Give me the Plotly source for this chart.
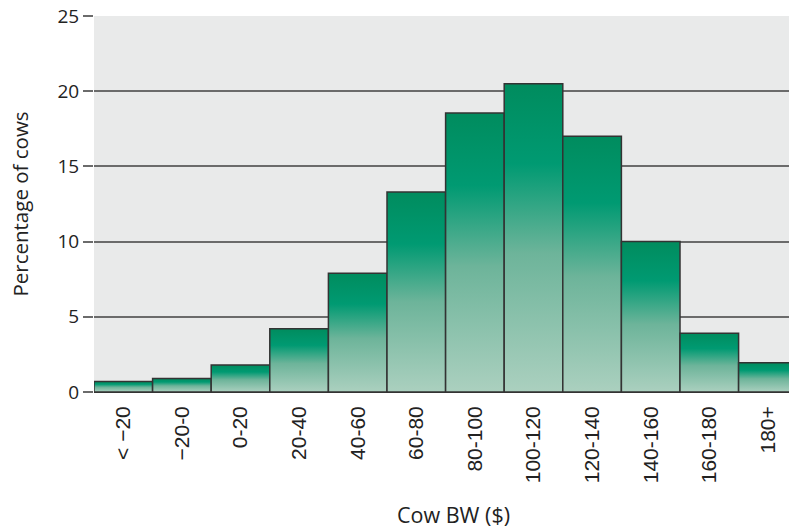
import plotly.graph_objects as go

categories = ["< \u221220", "\u221220-0", "0-20", "20-40", "40-60", "60-80",
              "80-100", "100-120", "120-140", "140-160", "160-180", "180+"]
percent_cows = [0.7, 0.9, 1.8, 4.2, 7.9, 13.3, 18.55, 20.5, 17.0, 10.0, 3.9, 1.95]
y_ticks = [0, 5, 10, 15, 20, 25]

FONT = "Open Sans"
gradient = [[0.0, "#abd0bf"], [0.45, "#6db49a"], [0.74, "#009a72"], [1.0, "#008c5e"]]

fig = go.Figure()
for i, v in enumerate(percent_cows):
    fig.add_trace(go.Scatter(
        x=[i - 0.5, i - 0.5, i + 0.5, i + 0.5, i - 0.5],
        y=[0, v, v, 0, 0],
        mode="lines",
        fill="toself",
        fillgradient=dict(type="vertical", colorscale=gradient),
        line=dict(color="#333333", width=1.5),
        hoverinfo="skip",
        showlegend=False,
    ))

fig.update_layout(
    width=789, height=529,
    margin=dict(l=94, r=0, t=16, b=137),
    paper_bgcolor="white",
    plot_bgcolor="#e9eaea",
    font=dict(family=FONT, size=17, color="#222222"),
    xaxis=dict(
        range=[-0.5, 11.36],
        tickmode="array",
        tickvals=list(range(len(categories))),
        ticktext=categories,
        tickangle=-90,
        tickfont=dict(family="Liberation Sans", size=21, color="#222222"),
        ticks="",
        ticklabelstandoff=9,
        showgrid=False,
        zeroline=False,
        showline=False,
        automargin=False,
    ),
    yaxis=dict(
        range=[0, 25],
        tickvals=y_ticks,
        tickfont=dict(size=19),
        ticks="outside",
        ticklen=10,
        tickwidth=1.5,
        tickcolor="#6b6b6b",
        ticklabelstandoff=0,
        ticklabeloverflow="allow",
        showgrid=True,
        gridcolor="#6b6b6b",
        gridwidth=1.5,
        zeroline=True,
        zerolinecolor="#333333",
        zerolinewidth=1.5,
        automargin=False,
        title=dict(text="Percentage of cows", standoff=23, font=dict(size=20.5)),
    ),
    annotations=[dict(
        text="Cow BW ($)", xref="paper", yref="paper",
        x=0.5166, y=-0.3245, xanchor="center", yanchor="middle",
        showarrow=False, font=dict(size=21.5),
    )],
)

fig.write_html("out.html", config={"displayModeBar": False},
               post_script="document.body.style.margin='0';")
